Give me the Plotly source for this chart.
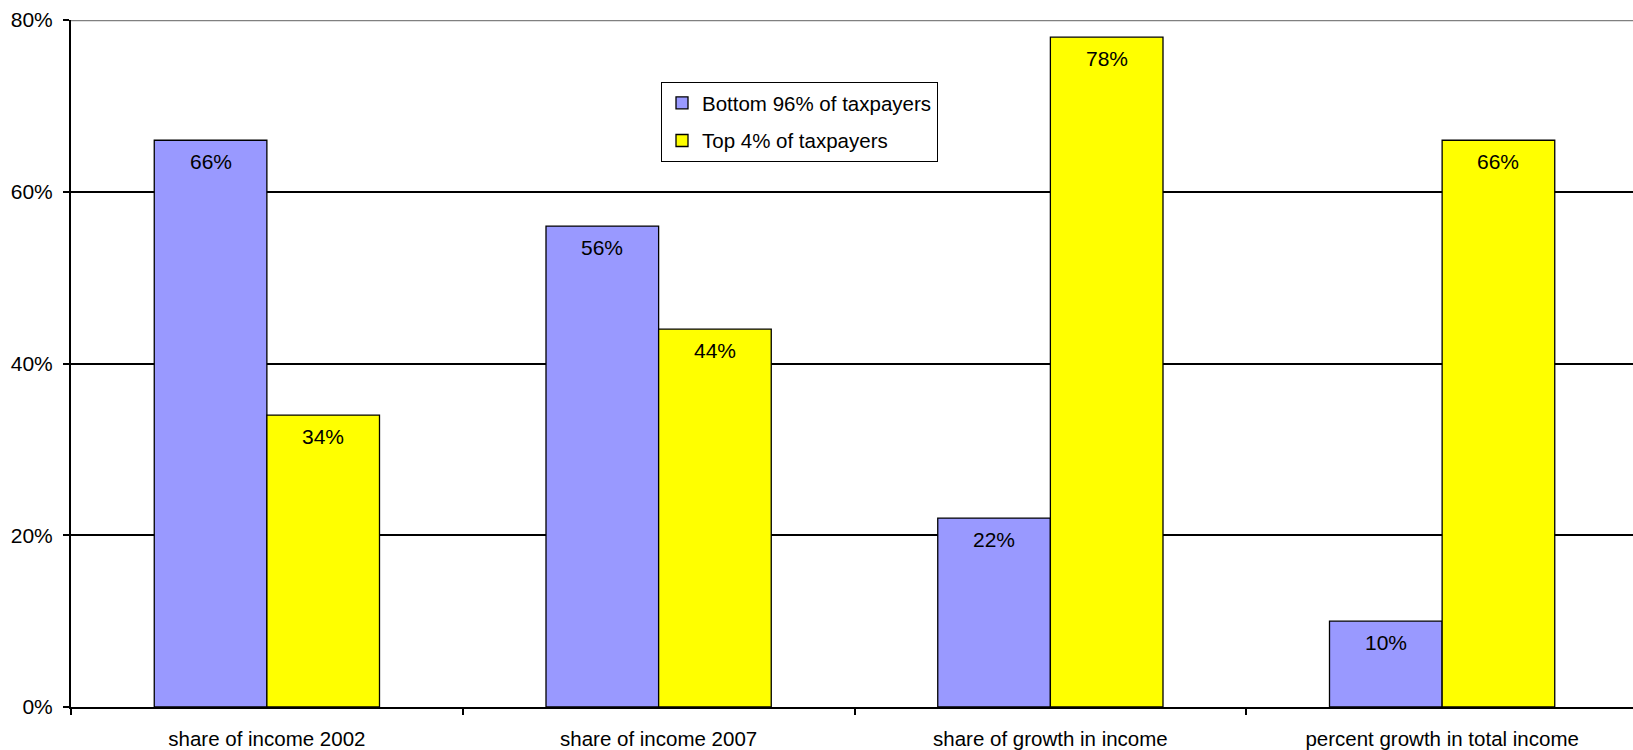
import plotly.graph_objects as go

categories = ["share of income 2002", "share of income 2007",
              "share of growth in income", "percent growth in total income"]
bottom_96 = [66, 56, 22, 10]
top_4 = [34, 44, 78, 66]
y_ticks = [0, 20, 40, 60, 80]
y_tick_text = ["0%", "20%", "40%", "60%", "80%"]

FONT = "Liberation Sans, Arial, sans-serif"
BLUE = "#9999FF"
YELLOW = "#FFFF00"

fig = go.Figure()
fig.add_trace(go.Bar(
    x=categories, y=bottom_96, name="Bottom 96% of taxpayers",
    marker=dict(color=BLUE, line=dict(color="black", width=1.3)),
    legendgroup="a",
))
fig.add_trace(go.Bar(
    x=categories, y=top_4, name="Top 4% of taxpayers",
    marker=dict(color=YELLOW, line=dict(color="black", width=1.3)),
    legendgroup="b",
))

# value labels just inside the top of each bar
bar_gap = 0.425
half = (1 - bar_gap) / 4
annotations = []
for i in range(len(categories)):
    for offset, vals in ((-half, bottom_96), (half, top_4)):
        annotations.append(dict(
            x=i + offset, y=vals[i], xref="x", yref="y",
            text=f"{vals[i]}%", showarrow=False,
            yanchor="top", yshift=-8,
            font=dict(family=FONT, size=21, color="black"),
        ))

fig.update_layout(
    width=1633, height=750,
    margin=dict(l=71, r=0, t=20, b=43),
    paper_bgcolor="white", plot_bgcolor="white",
    barmode="group", bargap=bar_gap, bargroupgap=0,
    font=dict(family=FONT, size=20, color="black"),
    annotations=annotations,
    showlegend=True,
    legend=dict(
        x=(661 - 71) / 1562, y=(707 - 82) / 687,
        xanchor="left", yanchor="top",
        bgcolor="white", bordercolor="black", borderwidth=1,
        font=dict(family=FONT, size=20.5, color="black"),
        tracegroupgap=8, itemwidth=30,
    ),
    shapes=[dict(type="line", xref="paper", yref="y", x0=0, x1=1, y0=80, y1=80,
                 line=dict(color="#808080", width=2.5))],
)

fig.update_xaxes(
    type="category",
    range=[-0.5, 3.5 - 5 / 391.7],
    automargin=False,
    showline=True, linecolor="black", linewidth=2,
    ticks="outside", tickson="boundaries", ticklen=6, tickwidth=1.5, tickcolor="black",
    ticklabelstandoff=12,
    showgrid=False, zeroline=False,
    tickfont=dict(family=FONT, size=20.5, color="black"),
)
fig.update_yaxes(
    range=[0, 80],
    automargin=False,
    tickvals=y_ticks, ticktext=y_tick_text,
    showline=True, linecolor="black", linewidth=2,
    ticks="outside", ticklen=6, tickwidth=1.5, tickcolor="black",
    ticklabelstandoff=6,
    showgrid=True, gridcolor="black", gridwidth=1.5,
    zeroline=False,
    tickfont=dict(family=FONT, size=21, color="black"),
)

fig.write_html("out.html")
